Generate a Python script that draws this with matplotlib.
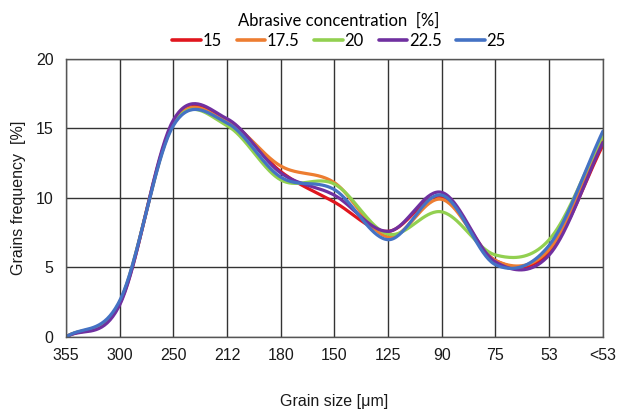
import matplotlib
matplotlib.use('Agg')
import matplotlib.pyplot as plt
import numpy as np

# 数据：粒度分布（每个磨料浓度一条曲线）
categories = ['355', '300', '250', '212', '180', '150', '125', '90', '75', '53', '<53']
series_names = ['15', '17.5', '20', '22.5', '25']
c15 = [0, 2.4, 15.4, 15.6, 11.9, 9.7, 7.6, 10.1, 5.5, 6.1, 13.8]
c17_5 = [0, 2.5, 15.4, 15.5, 12.3, 11.1, 7.2, 9.9, 5.5, 6.3, 14.2]
c20 = [0, 2.5, 15.3, 15.2, 11.3, 11.0, 7.4, 9.0, 5.9, 7.0, 14.5]
c22_5 = [0, 2.3, 15.6, 15.7, 11.8, 10.2, 7.6, 10.4, 5.4, 5.9, 14.0]
c25 = [0, 2.6, 15.2, 15.4, 11.5, 10.6, 7.0, 10.2, 5.2, 6.6, 14.8]
colors = ['#E0161E', '#ED7D31', '#92D050', '#7030A0', '#4472C4']


# Excel 风格的平滑曲线 (Catmull-Rom -> Bezier)
def smooth(x, y, n=40):
    p = np.column_stack([x, y]).astype(float)
    ext = np.vstack([2 * p[0] - p[1], p, 2 * p[-1] - p[-2]])
    out = []
    t = np.linspace(0, 1, n)[:, None]
    for i in range(len(p) - 1):
        p0, p3 = ext[i + 1], ext[i + 2]
        p1 = p0 + (ext[i + 2] - ext[i]) / 6
        p2 = p3 - (ext[i + 3] - ext[i + 1]) / 6
        seg = ((1 - t) ** 3 * p0 + 3 * (1 - t) ** 2 * t * p1
               + 3 * (1 - t) * t ** 2 * p2 + t ** 3 * p3)
        out.append(seg if i == 0 else seg[1:])
    out = np.vstack(out)
    return out[:, 0], out[:, 1]


plt.rcParams['font.family'] = ['Liberation Sans', 'DejaVu Sans']

fig = plt.figure(figsize=(6.28, 4.12), dpi=100)
ax = fig.add_axes([0.105, 0.182, 0.855, 0.675])

x = np.arange(len(categories))
for name, vals, col in zip(series_names, [c15, c17_5, c20, c22_5, c25], colors):
    xs, ys = smooth(x, vals)
    ax.plot(xs, ys, color=col, lw=2.3, label=name, solid_capstyle='round')

ax.set_xlim(0, len(categories) - 1)
ax.set_ylim(0, 20)
ax.set_xticks(x)
ax.set_xticklabels(categories)
ax.set_yticks([0, 5, 10, 15, 20])
ax.grid(True, color='#333333', lw=1)
ax.set_axisbelow(True)
for s in ax.spines.values():
    s.set_color('#555555')
    s.set_linewidth(1)
ax.tick_params(length=0, labelsize=11.5, colors='#1a1a1a')
ax.tick_params(axis='x', pad=8)
ax.tick_params(axis='y', pad=9)

ax.set_xlabel('Grain size [μm]', fontsize=11.5, labelpad=22, color='#1a1a1a')
ax.set_ylabel('Grains frequency  [%]', fontsize=11.5, labelpad=7, color='#1a1a1a')

leg = fig.legend(loc='upper center', bbox_to_anchor=(0.54, 1.005), ncol=5,
                 frameon=False, handlelength=1.7, handletextpad=0.1,
                 columnspacing=0.9, title='Abrasive concentration  [%]',
                 prop={'family': 'Lato', 'size': 12})
leg.get_title().set_fontfamily('Lato')
leg.get_title().set_fontsize(12)
leg._legend_box.sep = 3
for line in leg.get_lines():
    line.set_linewidth(2.6)

fig.savefig('out.png', dpi=100)
